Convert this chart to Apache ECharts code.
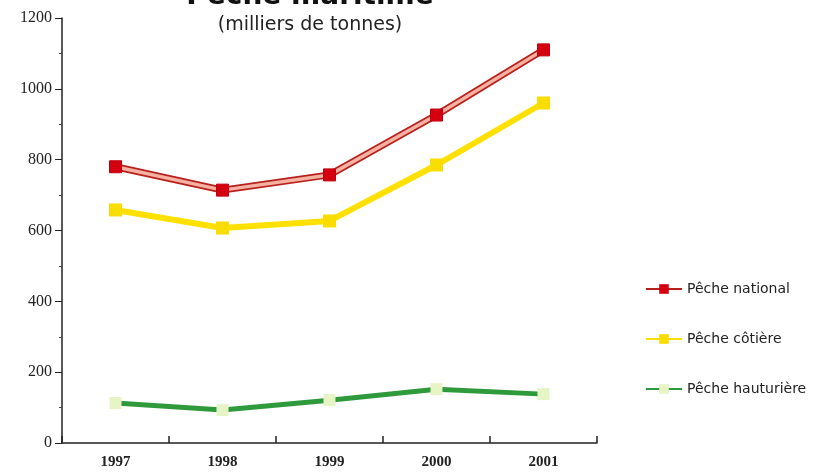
<!DOCTYPE html>
<html><head><meta charset="utf-8">
<script src="https://cdn.jsdelivr.net/npm/echarts@6/dist/echarts.min.js"></script>
<style>html,body{margin:0;padding:0;background:#fff}#c{width:826px;height:474px}</style>
</head><body><div id="c"></div>
<script>
const categories = ['1997','1998','1999','2000','2001'];
const pecheNational = [780, 714, 757, 926, 1110];
const pecheCotiere = [658, 607, 627, 785, 960];
const pecheHauturiere = [113, 93, 121, 152, 138];
const yTicks = [0, 200, 400, 600, 800, 1000, 1200];

const chart = echarts.init(document.getElementById('c'));
chart.setOption({
  backgroundColor: '#fff',
  animation: false,
  title: {
    text: 'Pêche maritime',
    subtext: '(milliers de tonnes)',
    left: 305, textAlign: 'center', top: -22, itemGap: 5,
    textStyle: {fontFamily: 'DejaVu Sans', fontWeight: 'bold', fontSize: 28, color: '#111'},
    subtextStyle: {fontFamily: 'DejaVu Sans', fontSize: 19, color: '#222'}
  },
  legend: {
    orient: 'vertical', left: 640, top: 277, itemGap: 36,
    itemWidth: 36, itemHeight: 12,
    data: ['Pêche national', 'Pêche côtière', 'Pêche hauturière'],
    textStyle: {fontFamily: 'DejaVu Sans', fontSize: 14, color: '#222'}
  },
  grid: {left: 62, right: 229, top: 18, bottom: 31},
  xAxis: {
    type: 'category', data: categories, boundaryGap: true,
    axisLine: {show: true, lineStyle: {color: '#222', width: 1.5}},
    axisTick: {show: true, interval: 0, inside: true, length: 7, lineStyle: {color: '#222', width: 1.5}},
    axisLabel: {fontFamily: 'Liberation Serif', fontWeight: 'bold', fontSize: 15, color: '#222', margin: 12}
  },
  yAxis: {
    type: 'value', min: 0, max: 1200, interval: 200,
    axisLine: {show: true, lineStyle: {color: '#222', width: 1.5}},
    axisTick: {show: true, length: 7, lineStyle: {color: '#222'}},
    minorTick: {show: true, splitNumber: 2, length: 3, lineStyle: {color: '#444'}},
    splitLine: {show: false},
    axisLabel: {fontFamily: 'Liberation Serif', fontSize: 16, color: '#222', margin: 10,
      formatter: v => yTicks.includes(v) ? String(v) : ''}
  },
  series: [
    {name: 'Pêche national', type: 'line', data: pecheNational, z: 3,
      lineStyle: {color: '#b8201c', width: 7},
      itemStyle: {color: '#d40010'}, symbol: 'rect', symbolSize: 12, showSymbol: false},
    {name: 'nat-inner', type: 'line', data: pecheNational, z: 4,
      lineStyle: {color: '#f5b2a2', width: 3.5},
      itemStyle: {color: '#d40010', borderColor: '#c00010'}, symbol: 'rect', symbolSize: 12},
    {name: 'Pêche côtière', type: 'line', data: pecheCotiere, z: 3,
      lineStyle: {color: '#ffe000', width: 6},
      itemStyle: {color: '#f9dc00'}, symbol: 'rect', symbolSize: 13},
    {name: 'Pêche hauturière', type: 'line', data: pecheHauturiere, z: 3,
      lineStyle: {color: '#2f9a3c', width: 5},
      itemStyle: {color: '#e6f4c6'}, symbol: 'rect', symbolSize: 12}
  ]
});
</script></body></html>
